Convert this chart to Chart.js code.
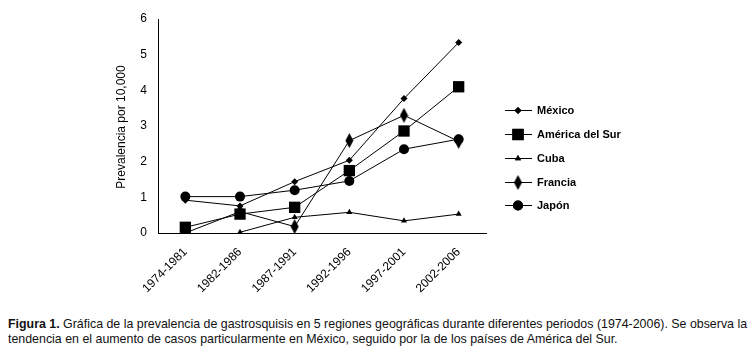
<!DOCTYPE html>
<html>
<head>
<meta charset="utf-8">
<script src="https://cdn.jsdelivr.net/npm/chart.js@4/dist/chart.umd.min.js"></script>
<style>
  body { margin: 0; background: #fff; width: 755px; height: 359px; overflow: hidden; }
  #wrap { position: absolute; left: 0; top: 0; width: 755px; height: 300px; }
  #caption { position: absolute; left: 8px; top: 317px; width: 747px; font: 12.4px "Liberation Sans", Arial, sans-serif; line-height: 15px; color: #111; }
</style>
</head>
<body>
<div id="wrap"><canvas id="chart" width="755" height="300"></canvas></div>
<div id="caption"><b>Figura 1.</b> Gráfica de la prevalencia de gastrosquisis en 5 regiones geográficas durante diferentes periodos (1974-2006). Se observa la tendencia en el aumento de casos particularmente en México, seguido por la de los países de América del Sur.</div>
<script>
// data
const periods = ['1974-1981', '1982-1986', '1987-1991', '1992-1996', '1997-2001', '2002-2006'];
const mexico = [0.92, 0.76, 1.44, 2.04, 3.77, 5.34];
const americaSur = [0.16, 0.53, 0.72, 1.75, 2.86, 4.10];
const cuba = [null, 0.02, 0.44, 0.58, 0.34, 0.53];
const francia = [0.0, 0.60, 0.18, 2.59, 3.30, 2.57];
const japon = [1.02, 1.02, 1.20, 1.46, 2.35, 2.63];
const yTicks = [0, 1, 2, 3, 4, 5, 6];

// tall thin diamond for Francia
function tallDiamond() {
    const c = document.createElement('canvas');
    c.width = 9; c.height = 15;
    const g = c.getContext('2d');
    g.fillStyle = '#000';
    g.beginPath();
    g.moveTo(4.5, 0); g.lineTo(8.5, 7.5); g.lineTo(4.5, 15); g.lineTo(0.5, 7.5);
    g.closePath(); g.fill();
    return c;
}
const diamondImg = tallDiamond();

function series(label, data, style, radius) {
    return {
        label, data,
        borderColor: '#000', backgroundColor: '#000',
        borderWidth: 1, pointStyle: style, pointRadius: radius,
        pointBorderWidth: 0, pointHoverRadius: radius,
        spanGaps: false, tension: 0
    };
}

const datasets = [
    series('México', mexico, 'rectRot', 3.5),
    series('América del Sur', americaSur, 'rect', 8),
    series('Cuba', cuba, 'triangle', 3.5),
    series('Francia', francia, diamondImg, 5),
    series('Japón', japon, 'circle', 5)
];

// legend + y title drawn by hand
const extras = {
    id: 'extras',
    afterDraw(chart) {
        const ctx = chart.ctx;
        ctx.save();
        ctx.fillStyle = '#000';
        ctx.font = '12px "Liberation Sans", Arial, sans-serif';
        ctx.translate(122, 127);
        ctx.rotate(-Math.PI / 2);
        ctx.textAlign = 'center';
        ctx.textBaseline = 'middle';
        ctx.fillText('Prevalencia por 10,000', 0, 0);
        ctx.restore();

        const rows = [110, 134, 158, 182, 205];
        chart.data.datasets.forEach((ds, i) => {
            const y = rows[i];
            ctx.save();
            ctx.strokeStyle = '#000';
            ctx.lineWidth = 1;
            ctx.beginPath();
            ctx.moveTo(505, y + 0.5); ctx.lineTo(532, y + 0.5);
            ctx.stroke();
            if (ds.pointStyle instanceof HTMLCanvasElement) {
                ctx.drawImage(ds.pointStyle, 518 - 4.5, y - 7);
            } else {
                Chart.helpers.drawPoint(ctx, {
                    pointStyle: ds.pointStyle, radius: ds.pointRadius, borderWidth: 0, rotation: 0
                }, 518, y + 0.5);
                ctx.fillStyle = '#000';
                ctx.fill();
            }
            ctx.fillStyle = '#000';
            ctx.font = 'bold 11px "Liberation Sans", Arial, sans-serif';
            ctx.textBaseline = 'middle';
            ctx.fillText(ds.label, 537, y + 1);
            ctx.restore();
        });
    }
};

new Chart(document.getElementById('chart'), {
    type: 'line',
    data: { labels: periods, datasets },
    options: {
        responsive: false,
        animation: false,
        layout: { padding: { left: 0, top: 19, right: 269, bottom: 0 } },
        plugins: { legend: { display: false }, tooltip: { enabled: false } },
        scales: {
            x: {
                offset: true,
                grid: { display: false, drawTicks: false },
                border: { display: true, color: '#000', width: 1 },
                ticks: {
                    color: '#000', minRotation: 45, maxRotation: 45, padding: 12,
                    font: { family: '"Liberation Sans", Arial, sans-serif', size: 12 }
                },
                afterFit(s) { s.height = 67; }
            },
            y: {
                min: 0, max: 6,
                grid: { display: false, drawTicks: false },
                border: { display: true, color: '#000', width: 1 },
                afterBuildTicks(s) { s.ticks = yTicks.map(v => ({ value: v })); },
                ticks: {
                    color: '#000', padding: 11,
                    font: { family: '"Liberation Sans", Arial, sans-serif', size: 12 }
                },
                afterFit(s) { s.width = 158; }
            }
        }
    },
    plugins: [extras]
});
</script>
</body>
</html>
